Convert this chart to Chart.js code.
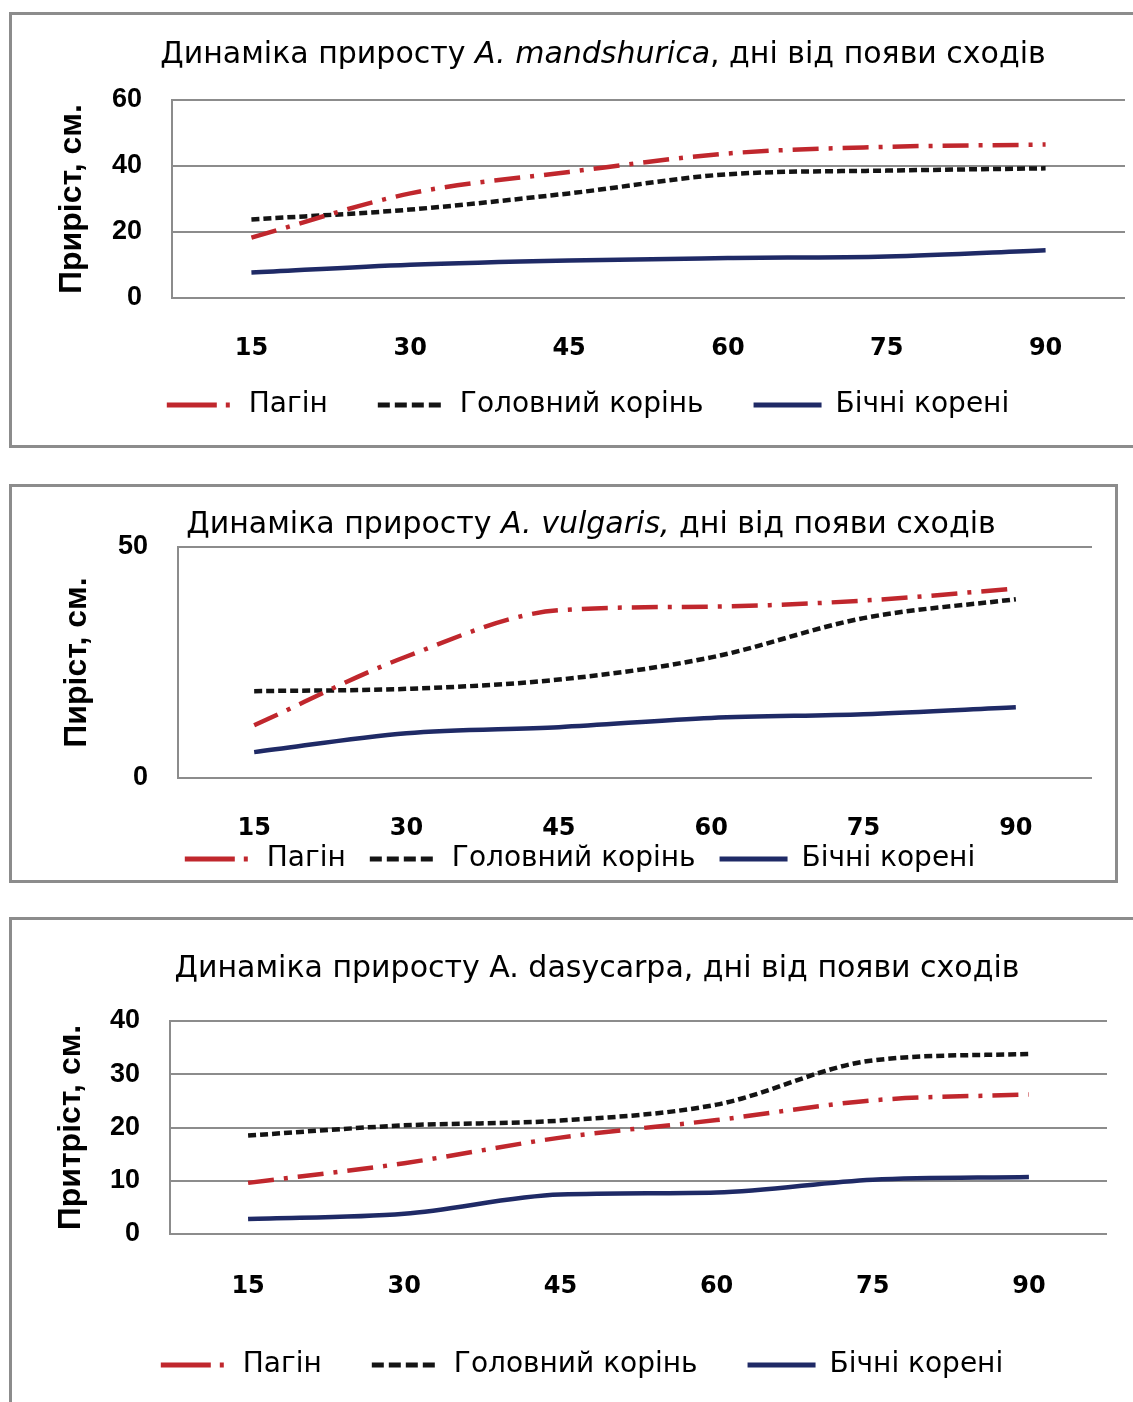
<!DOCTYPE html>
<html lang="uk">
<head>
<meta charset="utf-8">
<title>Динаміка приросту</title>
<script src="https://cdn.jsdelivr.net/npm/chart.js@4.4.1/dist/chart.umd.min.js"></script>
<style>
  body { margin: 0; background: #fff; width: 1133px; height: 1402px; overflow: hidden; position: relative; }
  .box { position: absolute; border: 3px solid #8c8c8c; box-sizing: border-box; }
  canvas { position: absolute; }
  #box1 { left: 9px; top: 12px; width: 1140px; height: 436px; }
  #box2 { left: 9px; top: 484px; width: 1109px; height: 399px; }
  #box3 { left: 9px; top: 917px; width: 1140px; height: 500px; }
  #c1 { left: 10px; top: 13px; }
  #c2 { left: 10px; top: 485px; }
  #c3 { left: 10px; top: 918px; }
</style>
</head>
<body>
<div class="box" id="box1"></div>
<canvas id="c1" width="1123" height="434"></canvas>
<div class="box" id="box2"></div>
<canvas id="c2" width="1107" height="397"></canvas>
<div class="box" id="box3"></div>
<canvas id="c3" width="1123" height="484"></canvas>
<script>
const days = ['15', '30', '45', '60', '75', '90'];
const seriesNames = ['Пагін', 'Головний корінь', 'Бічні корені'];

// A. mandshurica
const shootMand = [18.3, 31.7, 38.2, 43.8, 45.8, 46.5];
const rootMand = [23.8, 26.8, 31.7, 37.5, 38.6, 39.3];
const lateralMand = [7.7, 10.1, 11.4, 12.1, 12.6, 14.5];
const yTicksMand = [0, 20, 40, 60];

// A. vulgaris
const shootVulg = [11.4, 26.3, 36.3, 37.1, 38.4, 41.0];
const rootVulg = [18.8, 19.3, 21.3, 26.1, 34.6, 38.7];
const lateralVulg = [5.6, 9.7, 11.0, 13.0, 13.8, 15.3];
const yTicksVulg = [0, 50];

// A. dasycarpa
const shootDasy = [9.6, 13.3, 18.1, 21.4, 25.1, 26.2];
const rootDasy = [18.5, 20.4, 21.3, 24.3, 32.6, 33.8];
const lateralDasy = [2.8, 3.8, 7.4, 7.8, 10.2, 10.7];
const yTicksDasy = [0, 10, 20, 30, 40];

const seriesStyles = [
  { color: '#C0272D', dash: [26, 10, 4, 10], legendDash: [50, 9, 4, 9] },
  { color: '#141414', dash: [8, 4], legendDash: [12, 5] },
  { color: '#1F2A66', dash: [], legendDash: [] }
];
const gridColor = '#8c8c8c';
const textFont = '"DejaVu Sans", sans-serif';
const legendSize = 28;

// title with an italic species name, drawn in one line
const mixedTitle = {
  id: 'mixedTitle',
  afterDraw(chart, args, opts) {
    const ctx = chart.ctx;
    ctx.save();
    ctx.textBaseline = 'middle';
    ctx.textAlign = 'left';
    ctx.fillStyle = '#000';
    const fonts = opts.parts.map((p) => `${p.italic ? 'italic ' : ''}${opts.size}px ${textFont}`);
    const widths = opts.parts.map((p, i) => { ctx.font = fonts[i]; return ctx.measureText(p.text).width; });
    let x = opts.x - widths.reduce((a, b) => a + b, 0) / 2;
    opts.parts.forEach((p, i) => {
      ctx.font = fonts[i];
      ctx.fillText(p.text, x, opts.y);
      x += widths[i];
    });
    ctx.restore();
  }
};

// moves the legend row to where it sits in the picture, keeps x labels unclipped
const legendPlace = {
  id: 'legendPlace',
  afterLayout(chart, args, opts) {
    const lg = chart.legend;
    const pad = lg.options.labels.padding;
    const top = opts.y - pad - legendSize / 2;
    const dx = opts.x - (lg.left + lg.right) / 2;
    lg.bottom = top + lg.height;
    lg.top = top;
    lg.left += dx;
    lg.right += dx;
    chart.scales.x.bottom = chart.height;
  }
};

function makeChart(id, titleParts, yTitle, values, yTicks, box) {
  const canvas = document.getElementById(id);
  const W = canvas.width, H = canvas.height;
  return new Chart(canvas, {
    type: 'line',
    data: {
      labels: days,
      datasets: values.map((v, i) => ({
        label: seriesNames[i],
        data: v,
        borderColor: seriesStyles[i].color,
        backgroundColor: seriesStyles[i].color,
        borderDash: seriesStyles[i].dash,
        borderWidth: 4.5,
        pointRadius: 0,
        pointStyle: 'line',
        cubicInterpolationMode: 'monotone',
        fill: false
      }))
    },
    options: {
      responsive: false,
      animation: false,
      devicePixelRatio: 1,
      layout: { padding: { top: box.top, right: W - box.right, left: 0, bottom: 0 } },
      plugins: {
        mixedTitle: { parts: titleParts, x: box.titleX, y: box.titleY, size: 30 },
        legendPlace: { x: box.legendX, y: box.legendY },
        legend: {
          position: 'bottom',
          labels: {
            usePointStyle: true,
            pointStyleWidth: 68,
            padding: box.legendGap,
            color: '#000',
            font: { family: textFont, size: legendSize },
            generateLabels: (chart) => Chart.defaults.plugins.legend.labels.generateLabels(chart)
              .map((item, i) => Object.assign(item, {
                lineDash: seriesStyles[i].legendDash,
                lineWidth: 5,
                strokeStyle: seriesStyles[i].color,
                fillStyle: seriesStyles[i].color
              }))
          }
        },
        tooltip: { enabled: false }
      },
      scales: {
        x: {
          offset: true,
          grid: { display: false, drawTicks: false },
          border: { display: false },
          ticks: { color: '#000', padding: box.xPad, font: { family: textFont, size: 24, weight: 'bold' } },
          afterFit: (scale) => {
            scale.height = Math.max(0, H - scale.chart.legend.height - box.bottom);
          }
        },
        y: {
          min: yTicks[0],
          max: yTicks[yTicks.length - 1],
          ticks: {
            stepSize: yTicks[1] - yTicks[0],
            color: '#000',
            padding: 30,
            font: { family: '"Liberation Sans", Arial, sans-serif', size: 27, weight: 'bold' }
          },
          grid: { color: gridColor, lineWidth: 2, drawTicks: false },
          border: { display: true, color: gridColor, width: 2 },
          title: {
            display: true,
            text: yTitle,
            color: '#000',
            padding: { top: box.yTitlePad },
            font: { family: '"Liberation Sans", Arial, sans-serif', size: 32, weight: 'bold' }
          },
          afterFit: (scale) => { scale.width = box.left; }
        }
      }
    },
    plugins: [mixedTitle, legendPlace]
  });
}

makeChart('c1',
  [{ text: 'Динаміка приросту ' }, { text: 'A. mandshurica', italic: true }, { text: ', дні від появи сходів' }],
  'Приріст, см.',
  [shootMand, rootMand, lateralMand], yTicksMand,
  { left: 162, right: 1115, top: 87, bottom: 285, titleX: 593, titleY: 42, yTitlePad: 43,
    xPad: 36, legendX: 578, legendY: 392, legendGap: 50 });

makeChart('c2',
  [{ text: 'Динаміка приросту ' }, { text: 'A. vulgaris,', italic: true }, { text: ' дні від появи сходів' }],
  'Пиріст, см.',
  [shootVulg, rootVulg, lateralVulg], yTicksVulg,
  { left: 168, right: 1082, top: 62, bottom: 293, titleX: 581, titleY: 40, yTitlePad: 48,
    xPad: 36, legendX: 570, legendY: 374, legendGap: 24 });

makeChart('c3',
  [{ text: 'Динаміка приросту A. dasycarpa, дні від появи сходів' }],
  'Притріст, см.',
  [shootDasy, rootDasy, lateralDasy], yTicksDasy,
  { left: 160, right: 1097, top: 103, bottom: 316, titleX: 587, titleY: 51, yTitlePad: 42,
    xPad: 38, legendX: 572, legendY: 447, legendGap: 50 });
</script>
</body>
</html>
